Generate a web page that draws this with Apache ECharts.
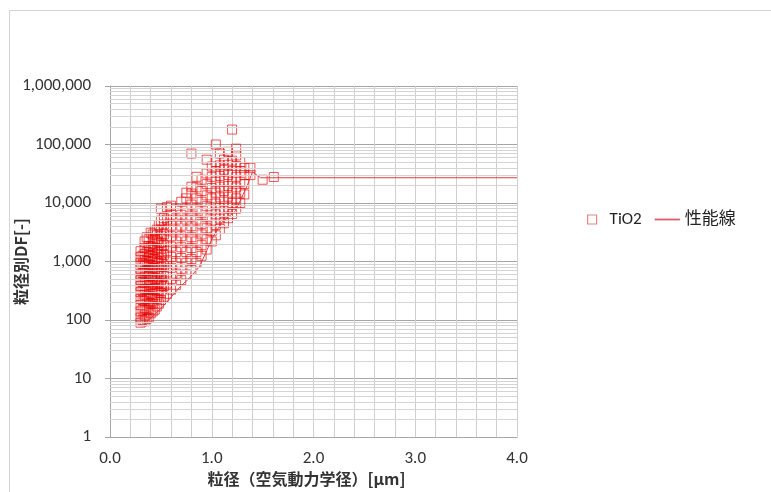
<!DOCTYPE html>
<html>
<head>
<meta charset="utf-8">
<script src="https://cdn.jsdelivr.net/npm/echarts/dist/echarts.min.js"></script>
<style>
  html, body { margin: 0; padding: 0; background: #fff; }
  #wrap { position: relative; width: 771px; height: 492px; }
  #main { width: 771px; height: 492px; }
  #frame { position: absolute; left: 9px; top: 10px; right: -2px; bottom: -2px;
           border-left: 1px solid #d4d4d4; border-top: 1px solid #d4d4d4; pointer-events: none; }
</style>
</head>
<body>
<div id="wrap">
  <div id="main"></div>
  <div id="frame"></div>
</div>
<script>
// 粒径 [µm] の列 と 各列の粒径別DF
var tio2X = [0.30, 0.32, 0.34, 0.36, 0.38, 0.40, 0.42, 0.44, 0.46, 0.48,
             0.50, 0.53, 0.56, 0.60, 0.65, 0.70, 0.75, 0.80, 0.85, 0.90,
             0.95, 1.00, 1.04, 1.08, 1.12, 1.16, 1.20, 1.24, 1.28, 1.32,
             1.38, 1.50, 1.61];
var tio2Y = [
    [90, 110, 140, 180, 230, 300, 380, 480, 600, 750, 950, 1200, 1500],
    [100, 150, 220, 320, 450, 640, 900, 1250],
    [95, 120, 160, 210, 270, 340, 430, 550, 680, 850, 1050, 1350, 1700, 2200],
    [105, 150, 230, 330, 480, 700, 1000, 1450, 2600],
    [110, 150, 200, 260, 340, 440, 560, 720, 900, 1150, 1450, 1850, 2400],
    [130, 190, 280, 400, 580, 850, 1250, 1800, 3100],
    [140, 190, 250, 330, 420, 540, 680, 860, 1100, 1400, 1800, 2300, 2900],
    [150, 230, 340, 500, 750, 1100, 1600, 2400, 3300],
    [170, 230, 310, 400, 510, 650, 830, 1050, 1350, 1700, 2200, 2800, 3500],
    [190, 290, 430, 650, 950, 1450, 2100, 4200],
    [220, 290, 380, 490, 620, 800, 1000, 1300, 1650, 2100, 2700, 3500, 5000, 8000],
    [250, 380, 570, 850, 1300, 1900, 2900, 4300, 5500],
    [280, 420, 650, 1000, 1500, 2300, 3500, 5200, 8500],
    [330, 500, 780, 1200, 1800, 2700, 4100, 6300, 9000],
    [400, 620, 950, 1450, 2200, 3400, 5200, 8000],
    [480, 750, 1150, 1750, 2700, 4100, 6300, 10500],
    [600, 950, 1450, 2200, 3400, 5200, 8000, 12000, 15000],
    [720, 1100, 1700, 2600, 4000, 6100, 9400, 14500, 19000, 70000],
    [950, 1450, 2200, 3400, 5200, 8000, 12000, 18500, 28000],
    [1250, 1900, 2900, 4400, 6800, 10500, 16000, 25000],
    [1600, 2400, 3700, 5700, 8800, 13500, 21000, 32000, 55000],
    [2200, 3300, 5000, 7700, 12000, 18000, 28000, 42000],
    [2800, 4200, 6400, 9800, 15000, 23000, 35000, 50000, 100000],
    [3600, 5400, 8200, 12500, 19000, 29000, 44000, 70000],
    [4500, 6800, 10500, 16000, 24000, 37000, 55000],
    [5500, 8400, 12800, 19500, 30000, 45000, 75000],
    [6500, 10000, 15000, 23000, 35000, 53000, 180000],
    [8000, 12000, 18500, 28000, 43000, 65000, 85000],
    [10000, 15000, 23000, 35000, 50000],
    [14000, 21000, 30000, 40000],
    [30000, 40000],
    [25000],
    [27800]
];

// 性能線
var lineX = [0.34, 0.52, 0.69, 0.78, 0.88, 1.01, 1.10, 1.23, 1.35, 1.40, 1.48, 1.60, 4.0];
var lineY = [85, 170, 370, 520, 820, 2600, 4700, 7200, 20000, 34000, 27000, 27000, 27000];

var yTicks = [1, 10, 100, 1000, 10000, 100000, 1000000];
var minorMult = [2, 3, 4, 5, 6, 7, 8, 9];

var myChart = echarts.init(document.getElementById('main'));

var scatterData = [];
for (var i = 0; i < tio2X.length; i++) {
    for (var j = 0; j < tio2Y[i].length; j++) {
        scatterData.push([tio2X[i], tio2Y[i][j]]);
    }
}
var lineData = [];
for (var k = 0; k < lineX.length; k++) {
    lineData.push([lineX[k], lineY[k]]);
}
// 対数軸の補助目盛線 (2〜9)
var minorLines = [];
for (var d = 0; d < yTicks.length - 1; d++) {
    for (var m = 0; m < minorMult.length; m++) {
        minorLines.push({ yAxis: yTicks[d] * minorMult[m] });
    }
}

var fontNum = "Carlito, Calibri, 'Liberation Sans', 'Noto Sans CJK JP', sans-serif";
var fontJp = "'Noto Sans CJK JP', sans-serif";
var markerColor = 'rgba(232,0,0,0.82)';

option = {
    backgroundColor: '#fff',
    animation: false,
    grid: {
        left: 110,
        right: 254,
        top: 86,
        bottom: 55,
        outerBoundsMode: 'none',
        containLabel: false
    },
    legend: {
        data: [{
            name: 'TiO2',
            icon: 'path://M0,0 L10,0 L10,10 L0,10 Z',
            itemStyle: { color: 'rgba(255,255,255,0)', borderColor: '#e06868', borderWidth: 1.2 }
        }, {
            name: '性能線',
            icon: 'path://M0,0 L25,0 L25,1.4 L0,1.4 Z',
            itemStyle: { color: '#e06070', borderColor: '#e06070', borderWidth: 0.4 }
        }],
        left: 582,
        top: 206,
        itemWidth: 25,
        itemHeight: 9,
        itemGap: 13,
        textStyle: {
            fontSize: 17,
            color: '#222',
            fontFamily: fontNum
        }
    },
    xAxis: {
        type: 'value',
        min: 0,
        max: 4,
        interval: 0.2,
        name: '粒径（空気動力学径）[μm]',
        nameLocation: 'middle',
        nameGap: 34,
        nameMoveOverlap: false,
        nameTextStyle: {
            fontSize: 16,
            fontWeight: 'bold',
            color: '#333',
            fontFamily: fontJp,
            padding: [0, 14, 0, 0]
        },
        axisLine: { lineStyle: { color: '#a6a6a6' } },
        axisTick: { show: false },
        axisLabel: {
            margin: 13,
            fontSize: 17,
            color: '#333',
            fontFamily: fontNum,
            formatter: function (v) {
                return Math.abs(v - Math.round(v)) < 1e-6 ? v.toFixed(1) : '';
            }
        },
        splitLine: { lineStyle: { color: '#cfcfcf' } }
    },
    yAxis: {
        type: 'log',
        logBase: 10,
        min: 1,
        max: 1000000,
        name: '粒径別DF[-]',
        nameLocation: 'middle',
        nameGap: 81,
        nameMoveOverlap: false,
        nameTextStyle: {
            fontSize: 16,
            fontWeight: 'bold',
            color: '#333',
            fontFamily: fontJp
        },
        axisLine: { show: true, lineStyle: { color: '#a6a6a6' } },
        axisTick: { show: true, length: 5, lineStyle: { color: '#a6a6a6' } },
        axisLabel: {
            margin: 19,
            fontSize: 17,
            color: '#333',
            fontFamily: fontNum,
            formatter: function (v) {
                return Math.round(v).toLocaleString('en-US');
            }
        },
        splitLine: { lineStyle: { color: '#a6a6a6' } }
    },
    series: [{
            name: 'grid-minor',
            type: 'line',
            data: [],
            z: 1,
            silent: true,
            markLine: {
                silent: true,
                symbol: ['none', 'none'],
                label: { show: false },
                lineStyle: { color: '#d4d4d4', type: 'solid', width: 1 },
                data: minorLines
            }
        },
        {
            name: 'TiO2',
            type: 'scatter',
            symbol: 'rect',
            symbolSize: 9,
            data: scatterData,
            itemStyle: {
                color: 'rgba(255,255,255,0)',
                borderColor: markerColor,
                borderWidth: 1
            }
        },
        {
            name: '性能線',
            type: 'line',
            symbol: 'none',
            showSymbol: false,
            data: lineData,
            lineStyle: { color: '#e03a3a', width: 1 },
            itemStyle: { color: '#e03a3a' }
        }
    ]
};
myChart.setOption(option);
</script>
</body>
</html>
